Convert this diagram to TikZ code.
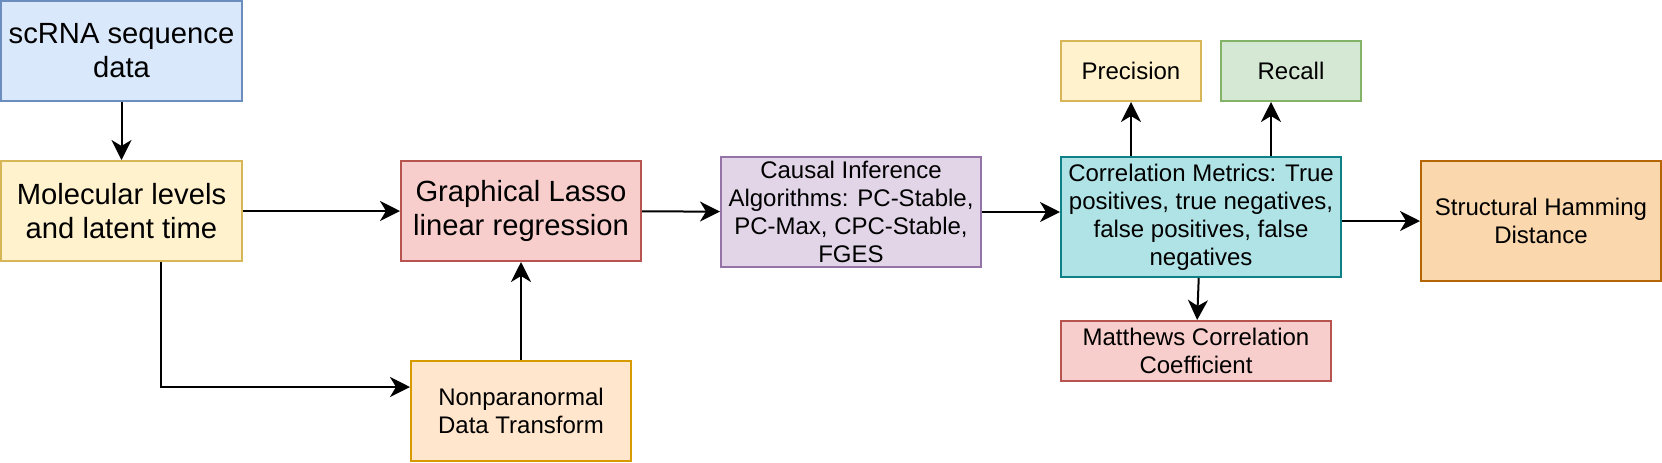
\documentclass[tikz,border=0pt]{standalone}
\usepackage{fontspec}
\setmainfont{Liberation Sans}
\usetikzlibrary{arrows.meta}
\definecolor{bluef}{HTML}{DAE8FC}\definecolor{blued}{HTML}{6C8EBF}
\definecolor{yelf}{HTML}{FFF2CC}\definecolor{yeld}{HTML}{D6B656}
\definecolor{redf}{HTML}{F8CECC}\definecolor{redd}{HTML}{B85450}
\definecolor{orf}{HTML}{FFE6CC}\definecolor{ord}{HTML}{D79B00}
\definecolor{purf}{HTML}{E1D5E7}\definecolor{purd}{HTML}{9673A6}
\definecolor{tealf}{HTML}{B0E3E6}\definecolor{teald}{HTML}{0E8088}
\definecolor{grf}{HTML}{D5E8D4}\definecolor{grd}{HTML}{82B366}
\definecolor{or2f}{HTML}{FAD7AC}\definecolor{or2d}{HTML}{B46504}
\begin{document}
\begin{tikzpicture}[x=0.5pt,y=-0.5pt,
  box/.style={draw, line width=1pt, inner sep=0pt, align=center, text=black},
  big/.style={font=\fontsize{14.6pt}{17pt}\selectfont},
  small/.style={font=\fontsize{12pt}{14pt}\selectfont},
  arr/.style={-{Stealth[length=10pt,width=10pt,inset=3pt]}, line width=1pt},
]
\useasboundingbox (0,0) rectangle (1662,462);
\node[box,big,fill=bluef,draw=blued,minimum width=120.5pt,minimum height=50pt] (sc) at (121.5,51) {scRNA sequence\\data};
\node[box,big,fill=yelf,draw=yeld,minimum width=120.5pt,minimum height=50pt] (mol) at (121.5,211) {Molecular levels\\and latent time};
\node[box,big,fill=redf,draw=redd,minimum width=120pt,minimum height=50pt] (gl) at (521,211) {Graphical Lasso\\linear regression};
\node[box,small,fill=orf,draw=ord,minimum width=110pt,minimum height=50pt] (np) at (521,411) {Nonparanormal\\Data Transform};
\node[box,small,fill=purf,draw=purd,minimum width=130pt,minimum height=55pt] (ci) at (851,212) {Causal Inference\\Algorithms: PC-Stable,\\PC-Max, CPC-Stable,\\FGES};
\node[box,small,fill=tealf,draw=teald,minimum width=140pt,minimum height=60pt] (cm) at (1201,217) {Correlation Metrics: True\\positives, true negatives,\\false positives, false\\negatives};
\node[box,small,fill=yelf,draw=yeld,minimum width=70pt,minimum height=30pt] (pr) at (1131,71) {Precision};
\node[box,small,fill=grf,draw=grd,minimum width=70pt,minimum height=30pt] (rc) at (1291,71) {Recall};
\node[box,small,fill=redf,draw=redd,minimum width=135pt,minimum height=30pt] (mt) at (1196,351) {Matthews Correlation\\Coefficient};
\node[box,small,fill=or2f,draw=or2d,minimum width=120pt,minimum height=60pt] (st) at (1541,221) {Structural Hamming\\Distance};
\coordinate (bend) at (161,387);
\coordinate (rcx) at (1271,101);
\draw[arr] (sc) -- (mol);
\draw[arr] (mol) -- (gl);
\draw[arr] (mol.south -| bend) -- (bend) -- (bend -| np.west);
\draw[arr] (np) -- (gl);
\draw[arr] (gl) -- (ci);
\draw[arr] (ci.east) -- (ci.east -| cm.west);
\draw[arr] (cm.north -| pr.south) -- (pr.south);
\draw[arr] (cm.north -| rcx) -- (rc.south -| rcx);
\draw[arr] (cm) -- (mt);
\draw[arr] (st.west -| cm.east) -- (st.west);
\end{tikzpicture}
\end{document}
